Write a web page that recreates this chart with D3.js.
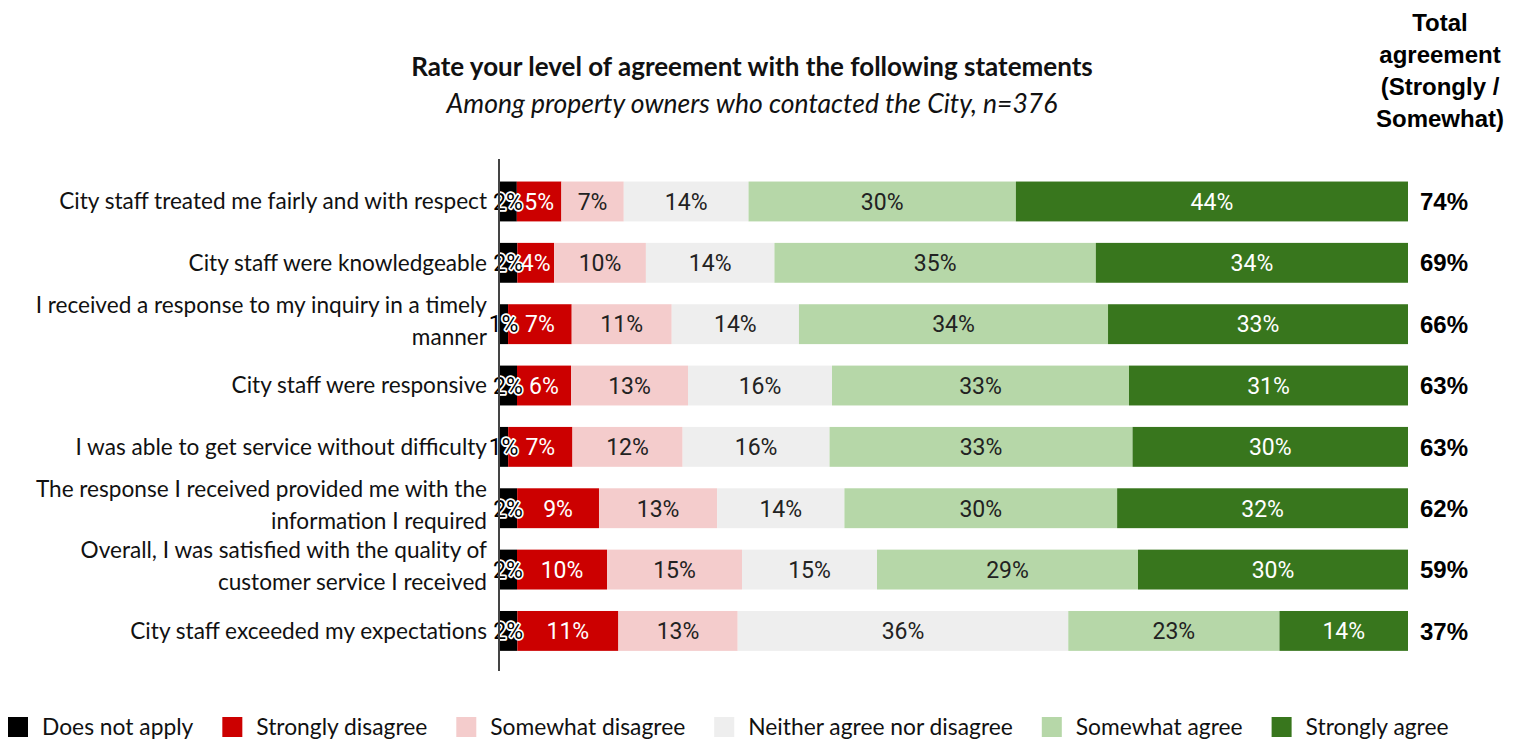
<!DOCTYPE html>
<html>
<head>
<meta charset="utf-8">
<script src="https://cdn.jsdelivr.net/npm/d3@7"></script>
<style>
  html, body { margin: 0; padding: 0; background: #fff; }
  svg { display: block; }
</style>
</head>
<body>
<svg id="chart" width="1528" height="741"></svg>
<script>
// ---------- data ----------
const statements = [
  ["City staff treated me fairly and with respect"],
  ["City staff were knowledgeable"],
  ["I received a response to my inquiry in a timely", "manner"],
  ["City staff were responsive"],
  ["I was able to get service without difficulty"],
  ["The response I received provided me with the", "information I required"],
  ["Overall, I was satisfied with the quality of", "customer service I received"],
  ["City staff exceeded my expectations"]
];
const seriesNames = ["Does not apply", "Strongly disagree", "Somewhat disagree",
  "Neither agree nor disagree", "Somewhat agree", "Strongly agree"];
const doesNotApply      = [2, 2, 1, 2, 1, 2, 2, 2];
const stronglyDisagree  = [5, 4, 7, 6, 7, 9, 10, 11];
const somewhatDisagree  = [7, 10, 11, 13, 12, 13, 15, 13];
const neither           = [14, 14, 14, 16, 16, 14, 15, 36];
const somewhatAgree     = [30, 35, 34, 33, 33, 30, 29, 23];
const stronglyAgree     = [44, 34, 33, 31, 30, 32, 30, 14];
const totalAgreement    = [74, 69, 66, 63, 63, 62, 59, 37];
const colors = ["#000000", "#cc0000", "#f4cccc", "#eeeeee", "#b6d7a8", "#38761d"];
const labelColors = ["#000000", "#ffffff", "#222222", "#222222", "#222222", "#ffffff"];

const seriesValues = [doesNotApply, stronglyDisagree, somewhatDisagree, neither, somewhatAgree, stronglyAgree];
const rows = statements.map((s, i) => {
  const r = { key: i };
  seriesNames.forEach((n, j) => r[n] = seriesValues[j][i]);
  return r;
});

// ---------- layout ----------
const svg = d3.select("#chart");
const x0 = 499, x1 = 1408;
const x = d3.scaleLinear().domain([0, 1]).range([x0, x1]);
const y = d3.scaleBand().domain(d3.range(statements.length))
  .range([170.8, 661.6]).paddingInner(0.35).paddingOuter(0.175);

const stack = d3.stack().keys(seriesNames).offset(d3.stackOffsetExpand);
const stacked = stack(rows);

// title
svg.append("text").attr("x", 752).attr("y", 76).attr("text-anchor", "middle")
  .attr("font-family", "Lato").attr("font-weight", "bold").attr("font-size", 26)
  .attr("fill", "#111").text("Rate your level of agreement with the following statements");
svg.append("text").attr("x", 752).attr("y", 113).attr("text-anchor", "middle")
  .attr("font-family", "Lato").attr("font-style", "italic").attr("font-size", 26.5)
  .attr("fill", "#111").text("Among property owners who contacted the City, n=376");

// right header
const hdr = ["Total", "agreement", "(Strongly /", "Somewhat)"];
svg.append("text").attr("text-anchor", "middle")
  .attr("font-family", "Liberation Sans, Arial").attr("font-weight", "bold").attr("font-size", 24)
  .attr("fill", "#000")
  .selectAll("tspan").data(hdr).join("tspan")
  .attr("x", 1440).attr("y", (d, i) => 31 + i * 32).text(d => d);

// bars
const layers = svg.append("g").selectAll("g").data(stacked).join("g")
  .attr("fill", (d, i) => colors[i]);
layers.selectAll("rect").data(d => d).join("rect")
  .attr("x", d => x(d[0]))
  .attr("y", (d, i) => y(i))
  .attr("width", d => x(d[1]) - x(d[0]))
  .attr("height", y.bandwidth());

// segment labels
stacked.forEach((layer, li) => {
  const g = svg.append("g");
  layer.forEach((d, i) => {
    const t = g.append("text")
      .attr("x", (x(d[0]) + x(d[1])) / 2)
      .attr("y", y(i) + y.bandwidth() / 2)
      .attr("dy", "0.36em")
      .attr("text-anchor", "middle")
      .attr("font-family", "Roboto").attr("font-size", 23)
      .attr("fill", labelColors[li])
      .text(seriesValues[li][i] + "%");
    if (li === 0) {
      t.attr("stroke", "#ffffff").attr("stroke-width", 3.5)
       .attr("paint-order", "stroke").attr("stroke-linejoin", "round");
    }
  });
});

// axis line (category axis)
const yAxis = d3.axisLeft(y).tickSize(0).tickFormat("");
svg.append("g").attr("transform", `translate(${x0},0)`).call(yAxis)
  .call(g => g.select(".domain").attr("d", `M0,159V671`).attr("stroke", "#444").attr("stroke-width", 2));

// category labels
const catG = svg.append("g").attr("font-family", "Lato").attr("font-size", 22.6).attr("fill", "#111");
statements.forEach((lines, i) => {
  const cy = y(i) + y.bandwidth() / 2;
  const lh = 32;
  const startY = cy - (lines.length - 1) * lh / 2 - (lines.length > 1 ? 3 : 0);
  const t = catG.append("text").attr("text-anchor", "end");
  lines.forEach((ln, k) => {
    t.append("tspan").attr("x", 487).attr("y", startY + k * lh).attr("dy", "0.35em").text(ln);
  });
});

// totals
svg.append("g").selectAll("text").data(totalAgreement).join("text")
  .attr("x", 1420).attr("y", (d, i) => y(i) + y.bandwidth() / 2).attr("dy", "0.36em")
  .attr("font-family", "Liberation Sans, Arial").attr("font-weight", "bold").attr("font-size", 24)
  .attr("fill", "#000").text(d => d + "%");

// legend
const leg = svg.append("g");
let lx = 8;
seriesNames.forEach((n, i) => {
  leg.append("rect").attr("x", lx).attr("y", 717).attr("width", 20).attr("height", 20).attr("fill", colors[i]);
  const t = leg.append("text").attr("x", lx + 34).attr("y", 727).attr("dy", "0.35em")
    .attr("font-family", "Lato").attr("font-size", 22.8).attr("fill", "#111").text(n);
  lx += 34 + t.node().getComputedTextLength() + 29;
});
</script>
</body>
</html>
